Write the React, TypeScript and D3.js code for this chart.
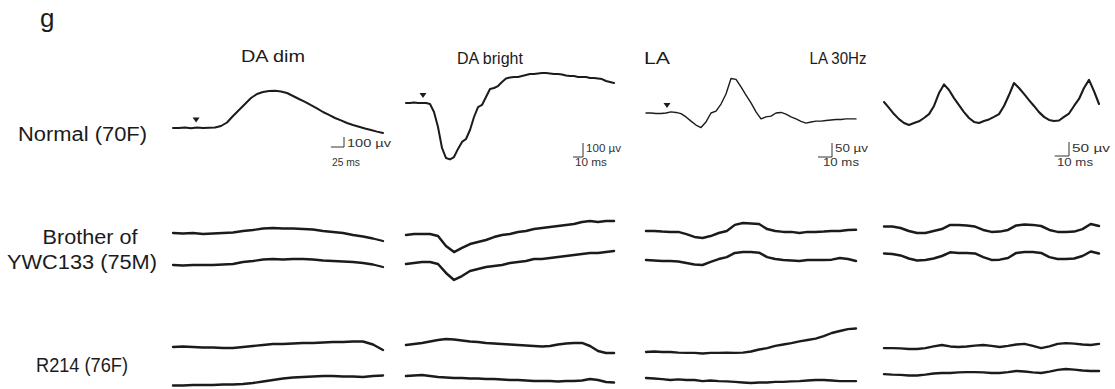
import * as d3 from "d3";

// panel titles and sweep lengths (ms)
const panels = ["DA dim", "DA bright", "LA", "LA 30Hz"];
const durationsMs = [400, 208, 150, 150];
const scaleBarUv = [100, 100, 50, 50];
const scaleBarMs = [25, 10, 10, 10];
const stimulusMs = [44, 17, 15];

const rowLabels = [["Normal (70F)"], ["Brother of", "YWC133 (75M)"], ["R214 (76F)"]];

// ERG traces, µV relative to the row baseline, sampled evenly across the sweep
const normalDaDim = [0, 0, 5, -3, 5, 0, 2, 5, 20, 55, 120, 180, 240, 300, 340, 360, 370, 372, 365, 350, 320, 290, 262, 228, 196, 160, 132, 100, 76, 50, 30, 12, -5, -20, -36, -50];
const normalDaBright = [0, 0, 4, 0, 0, 0, -7, -64, -171, -321, -393, -403, -386, -328, -278, -257, -193, -100, -29, -14, 43, 100, 107, 121, 150, 175, 182, 186, 186, 193, 200, 207, 207, 211, 214, 214, 211, 207, 207, 204, 196, 193, 193, 186, 186, 186, 179, 179, 175, 171, 157, 150, 143];
const normalLa = [0, 0, -2, -2, 0, 4, 2, -2, -14, -29, -43, -52, -32, 0, 7, 32, 68, 123, 120, 93, 64, 36, 4, -21, -14, -11, 0, 2, -4, -14, -21, -30, -36, -32, -29, -29, -27, -25, -23, -23, -21, -21, -21];
const normalLa30 = [7, -14, -36, -54, -68, -75, -68, -62, -50, -36, -7, 39, 70, 50, 21, -4, -29, -50, -64, -68, -61, -55, -46, -36, -7, 32, 75, 57, 36, 14, -7, -29, -46, -57, -61, -59, -46, -34, -7, 18, 57, 86, 46, 0];

const brotherDaDim1 = [0, -5, 0, -10, -5, 0, 5, 20, 30, 45, 50, 45, 45, 40, 35, 20, 10, 0, -20, -35, -55, -80];
const brotherDaDim2 = [-20, -25, -20, -20, -20, -15, -10, 10, 20, 35, 40, 35, 40, 40, 35, 25, 20, 15, 10, 0, -15, -40];
const brotherDaBright1 = [-14, -7, -7, -7, -21, -93, -136, -107, -79, -64, -50, -29, -14, -7, 7, 14, 29, 36, 43, 50, 57, 64, 79, 86, 79, 86, 86];
const brotherDaBright2 = [-7, 0, 7, 7, -7, -71, -121, -93, -57, -43, -29, -21, -14, 0, 7, 14, 29, 29, 36, 43, 50, 57, 64, 71, 71, 79, 86];
const brotherLa1 = [7, 7, 5, 4, 4, -4, -14, -18, -11, 0, 7, 29, 36, 34, 32, 14, 7, 4, 4, 0, 4, 4, 5, 7, 7, 11, 12];
const brotherLa2 = [11, 9, 7, 7, 5, 0, -5, -7, 4, 14, 21, 36, 39, 39, 37, 21, 14, 11, 9, 7, 11, 11, 11, 12, 18, 14, 7];
const brotherLa30a = [23, 23, 18, 7, 0, 0, 7, 14, 29, 29, 27, 23, 11, 4, 5, 11, 27, 30, 29, 25, 11, 4, 4, 5, 14, 32, 25];
const brotherLa30b = [34, 32, 27, 16, 9, 11, 16, 25, 38, 36, 36, 34, 21, 11, 12, 18, 36, 39, 39, 36, 21, 14, 14, 16, 25, 41, 34];

const r214DaDim1 = [0, 5, 0, -5, -5, -10, -10, 0, 10, 20, 30, 30, 35, 40, 40, 45, 50, 50, 55, 55, 25, -30];
const r214DaDim2 = [-75, -75, -70, -70, -70, -65, -65, -60, -50, -35, -20, -5, 5, 10, 15, 20, 20, 15, 15, 10, 20, 25];
const r214DaBright1 = [14, 21, 29, 39, 50, 57, 54, 46, 39, 36, 29, 25, 21, 18, 14, 11, 7, 4, 7, 18, 25, 29, 29, 7, -29, -43, -43];
const r214DaBright2 = [14, 18, 21, 14, 7, 4, 0, 0, -4, -4, -7, -7, -11, -14, -14, -18, -21, -21, -21, -25, -21, -21, -18, -7, -14, -29, -32];
const r214La1 = [-18, -16, -18, -18, -20, -21, -21, -23, -21, -21, -20, -21, -20, -16, -9, -4, 4, 9, 14, 20, 25, 30, 39, 50, 57, 64, 66];
const r214La2 = [0, -2, -4, -7, -5, -7, -7, -11, -9, -11, -12, -14, -16, -18, -16, -16, -14, -14, -12, -11, -9, -7, -7, -9, -11, -11, -11];
const r214La30a = [-4, -4, -5, -7, -7, -4, 2, 7, 2, 0, 2, 5, 7, 4, 0, 4, 9, 11, 4, -4, 2, 11, 14, 12, 9, 7, 11];
const r214La30b = [14, 12, 11, 9, 9, 12, 16, 18, 18, 20, 21, 21, 20, 18, 18, 21, 25, 23, 20, 18, 23, 29, 32, 30, 27, 25, 25];

// layout
const colX = [[173, 383], [406, 614], [646, 856], [884, 1099]];
const pxPer100uV = [10, 14, 28, 28];
const row1Base = [128, 103, 113, 104];
const row2Base = [233, 263];
const row3Base = [347, 378];
const font = "'Liberation Sans', Arial, sans-serif";
const ink = "#1b1b1b";

export default function App() {
  const width = 1115;
  const height = 389;
  const xs = colX.map((r, c) => d3.scaleLinear([0, durationsMs[c]], r));
  const ys = pxPer100uV.map((p) => d3.scaleLinear([0, 100], [0, -p]));

  const path = (vals: number[], c: number, base: number) => {
    const n = vals.length;
    return d3
      .line<number>()
      .x((_, i) => xs[c]((i / (n - 1)) * durationsMs[c]))
      .y((d) => base + ys[c](d))(vals);
  };

  const traces = [
    { v: normalDaDim, c: 0, b: row1Base[0], w: 2 },
    { v: normalDaBright, c: 1, b: row1Base[1], w: 2 },
    { v: normalLa, c: 2, b: row1Base[2], w: 1.4 },
    { v: normalLa30, c: 3, b: row1Base[3], w: 2.1 },
    { v: brotherDaDim1, c: 0, b: row2Base[0], w: 2.3 },
    { v: brotherDaDim2, c: 0, b: row2Base[1], w: 2.3 },
    { v: brotherDaBright1, c: 1, b: row2Base[0], w: 2.5 },
    { v: brotherDaBright2, c: 1, b: row2Base[1], w: 2.5 },
    { v: brotherLa1, c: 2, b: row2Base[0], w: 2.5 },
    { v: brotherLa2, c: 2, b: row2Base[1], w: 2.5 },
    { v: brotherLa30a, c: 3, b: row2Base[0], w: 2.5 },
    { v: brotherLa30b, c: 3, b: row2Base[1], w: 2.5 },
    { v: r214DaDim1, c: 0, b: row3Base[0], w: 2.4 },
    { v: r214DaDim2, c: 0, b: row3Base[1], w: 2.4 },
    { v: r214DaBright1, c: 1, b: row3Base[0], w: 2.5 },
    { v: r214DaBright2, c: 1, b: row3Base[1], w: 2.5 },
    { v: r214La1, c: 2, b: row3Base[0], w: 2.4 },
    { v: r214La2, c: 2, b: row3Base[1], w: 2.4 },
    { v: r214La30a, c: 3, b: row3Base[0], w: 2.4 },
    { v: r214La30b, c: 3, b: row3Base[1], w: 2.4 },
  ];
  const row1 = [normalDaDim, normalDaBright, normalLa];

  // scale bar corners and label placement
  const barCorner = [[344, 147], [583, 157], [832, 157], [1069, 156]];
  const uvTextY = [147, 152, 152, 152];
  const uvTextW = [44, 35, 33, 38];
  const msTextX = [332, 575, 823, 1057];
  const msTextW = [28, 32, 36, 36];

  const titleX = [273, 490, 657, 838];
  const titleW = [64, 66, 26, 57];
  const titleY = [62, 64, 64, 64];

  return (
    <svg width={width} height={height} style={{ position: "absolute", left: 0, top: 0, background: "#fff" }} fontFamily={font}>
      <text x={40} y={27} fontSize={26} fill={ink}>g</text>

      {panels.map((p, c) => (
        <text key={p} x={titleX[c]} y={titleY[c]} fontSize={17} textAnchor="middle" fill={ink}
          textLength={titleW[c]} lengthAdjust="spacingAndGlyphs">{p}</text>
      ))}

      <text x={18} y={141} fontSize={20} fill={ink} textLength={129} lengthAdjust="spacingAndGlyphs">{rowLabels[0][0]}</text>
      <text x={90} y={244} fontSize={20} fill={ink} textAnchor="middle" textLength={95} lengthAdjust="spacingAndGlyphs">{rowLabels[1][0]}</text>
      <text x={82} y={269} fontSize={20} fill={ink} textAnchor="middle" textLength={150} lengthAdjust="spacingAndGlyphs">{rowLabels[1][1]}</text>
      <text x={36} y={372} fontSize={20} fill={ink} textLength={92} lengthAdjust="spacingAndGlyphs">{rowLabels[2][0]}</text>

      {traces.map((t, i) => (
        <path key={i} d={path(t.v, t.c, t.b) || ""} fill="none" stroke={ink} strokeWidth={t.w}
          strokeLinejoin="round" strokeLinecap="round" />
      ))}

      {/* stimulus markers */}
      {stimulusMs.map((ms, c) => {
        const vals = row1[c];
        const idx = Math.round((ms / durationsMs[c]) * (vals.length - 1));
        const tx = xs[c](ms);
        const ty = row1Base[c] + ys[c](vals[idx]) - 5;
        return <path key={c} d={`M${tx - 3.5},${ty - 5}L${tx + 3.5},${ty - 5}L${tx},${ty}Z`} fill={ink} />;
      })}

      {/* scale bars */}
      {barCorner.map(([cx, cy], c) => {
        const hx = xs[c](scaleBarMs[c]) - xs[c](0);
        const vy = ys[c](scaleBarUv[c]);
        return (
          <g key={c} fill="#333">
            <path d={`M${cx - hx},${cy}H${cx}V${cy + vy}`} fill="none" stroke="#333" strokeWidth={1} />
            <text x={cx + 3} y={uvTextY[c]} fontSize={11.5} textLength={uvTextW[c]} lengthAdjust="spacingAndGlyphs">
              {`${scaleBarUv[c]} µv`}
            </text>
            <text x={msTextX[c]} y={166} fontSize={11.5} textLength={msTextW[c]} lengthAdjust="spacingAndGlyphs">
              {`${scaleBarMs[c]} ms`}
            </text>
          </g>
        );
      })}
    </svg>
  );
}
